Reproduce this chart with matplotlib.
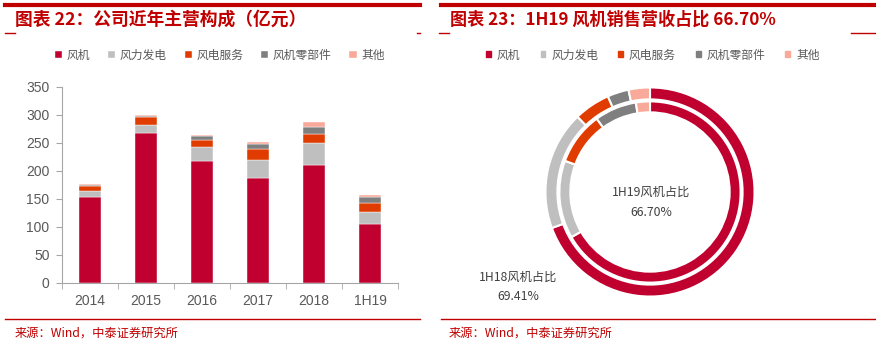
import numpy as np
import matplotlib.pyplot as plt
from matplotlib.lines import Line2D
from matplotlib.patches import Patch

plt.rcParams['font.family'] = ['Noto Sans CJK SC', 'DejaVu Sans']

# Data
years = ['2014', '2015', '2016', '2017', '2018', '1H19']
series = ['风机', '风力发电', '风电服务', '风机零部件', '其他']
fengji = [154, 267, 218, 187, 210, 105]
fadian = [11, 16, 25, 32, 40, 22]
fuwu = [8, 13, 13, 21, 16, 15]
lingbujian = [1.5, 2, 6, 8, 12, 11]
qita = [1.5, 2, 2, 3, 10, 4]
yticks = [0, 50, 100, 150, 200, 250, 300, 350]

share_1h18 = [69.41, 18.4, 5.6, 3.3, 3.3]
share_1h19 = [66.70, 13.9, 9.4, 7.5, 2.5]

colors = ['#C0002E', '#BFBFBF', '#E03C00', '#7F7F7F', '#F9A99A']
red = '#C00000'
W, H = 876, 341

fig = plt.figure(figsize=(8.76, 3.41), dpi=100)


def fx(x):
    return x / W


def fy(y):
    return 1 - y / H


def hline(x0, x1, y, lw):
    fig.add_artist(Line2D([fx(x0), fx(x1)], [fy(y), fy(y)], color=red, lw=lw,
                          transform=fig.transFigure))


# frame lines
for x0, x1 in [(5, 420), (441, 875)]:
    hline(x0, x1, 5, 3)
    hline(x0, x1, 319, 1)
hline(5, 15, 33, 1)
hline(417, 420, 33, 1)
hline(439, 449, 33, 1)
hline(851, 875, 33, 1)

# titles
fig.text(fx(15), fy(20), '图表 22：公司近年主营构成（亿元）', color=red, fontsize=12.8,
         fontweight='bold', va='center', ha='left')
fig.text(fx(450), fy(20), '图表 23：1H19 风机销售营收占比 66.70%', color=red, fontsize=12.3,
         fontweight='bold', va='center', ha='left')
fig.text(fx(15), fy(333), '来源：Wind，中泰证券研究所', color=red, fontsize=8.8, va='center')
fig.text(fx(449), fy(333), '来源：Wind，中泰证券研究所', color=red, fontsize=8.8, va='center')

# ---- stacked bars ----
ax = fig.add_axes([fx(62), fy(283), fx(398 - 62), (283 - 87) / H])
x = np.arange(len(years))
bottom = np.zeros(len(years))
bars = []
for vals, c in zip([fengji, fadian, fuwu, lingbujian, qita], colors):
    b = ax.bar(x, vals, 0.4, bottom=bottom, color=c, edgecolor='white', linewidth=0.3)
    bars.append(b)
    bottom += np.array(vals)
ax.set_xlim(-0.5, len(years) - 0.5)
ax.set_ylim(0, 350)
ax.set_yticks(yticks)
ax.set_xticks(x)
ax.set_xticklabels(years)
ax.set_xticks(np.arange(-0.5, len(years)), minor=True)
ax.tick_params(axis='x', which='major', length=0, pad=8, labelsize=10, labelcolor='#595959')
ax.tick_params(axis='x', which='minor', length=4, color='#A6A6A6')
ax.tick_params(axis='y', length=4, color='#A6A6A6', labelsize=10, labelcolor='#595959', pad=5)
for lab in ax.get_xticklabels() + ax.get_yticklabels():
    lab.set_family('Liberation Sans')
for s in ['top', 'right']:
    ax.spines[s].set_visible(False)
for s in ['left', 'bottom']:
    ax.spines[s].set_color('#A6A6A6')
fig.legend(bars, series, ncol=5, loc='center', bbox_to_anchor=(fx(220), fy(55)),
           frameon=False, fontsize=8.5, handlelength=0.6, handleheight=0.6, handletextpad=0.4,
           columnspacing=1.5, labelcolor='#595959')

# ---- donut ----
R = 105
ax2 = fig.add_axes([fx(650 - 115), fy(192 + 115), 230 / W, 230 / H])
ax2.pie(share_1h18, radius=1.0, colors=colors, startangle=90, counterclock=False,
        wedgeprops=dict(width=12 / R, edgecolor='white', linewidth=1.5))
ax2.pie(share_1h19, radius=(R - 14) / R, colors=colors, startangle=90, counterclock=False,
        wedgeprops=dict(width=11 / R, edgecolor='white', linewidth=1.5))
ax2.set_xlim(-1.1, 1.1)
ax2.set_ylim(-1.1, 1.1)
ax2.axis('off')

fig.text(fx(651), fy(192), '1H19风机占比', ha='center', va='center', fontsize=8.8, color='#404040')
fig.text(fx(651), fy(212), '66.70%', ha='center', va='center', fontsize=8.8, color='#404040')
fig.text(fx(518), fy(277), '1H18风机占比', ha='center', va='center', fontsize=8.8, color='#404040')
fig.text(fx(518), fy(297), '69.41%', ha='center', va='center', fontsize=8.8, color='#404040')

handles = [Patch(color=c) for c in colors]
fig.legend(handles, series, ncol=5, loc='center', bbox_to_anchor=(fx(653), fy(55)),
           frameon=False, fontsize=8.5, handlelength=0.4, handleheight=0.4, handletextpad=0.5,
           columnspacing=1.7, labelcolor='#595959')

fig.savefig('out.png', dpi=100)
